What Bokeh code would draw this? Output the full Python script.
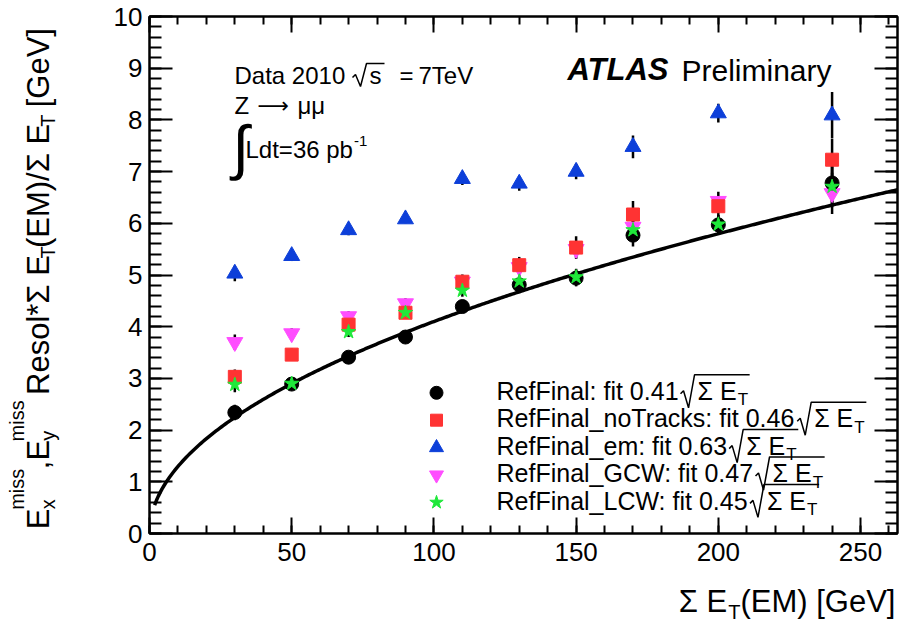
import numpy as np
from bokeh.plotting import figure
from bokeh.layouts import row, column
from bokeh.models import Label, LinearAxis, SingleIntervalTicker, Range1d
from bokeh.embed import file_html
from bokeh.resources import INLINE

# ---------------- data ----------------
sum_et = [30, 50, 70, 90, 110, 130, 150, 170, 200, 240]

reffinal      = [2.34, 2.89, 3.41, 3.80, 4.39, 4.81, 4.94, 5.77, 5.97, 6.78]
reffinal_err  = [0.15, 0.10, 0.10, 0.10, 0.12, 0.14, 0.16, 0.22, 0.18, 0.40]
notracks      = [3.03, 3.46, 4.04, 4.27, 4.87, 5.19, 5.53, 6.17, 6.33, 7.23]
notracks_err  = [0.14, 0.12, 0.12, 0.12, 0.14, 0.16, 0.22, 0.26, 0.20, 0.40]
em            = [5.03, 5.37, 5.87, 6.08, 6.86, 6.77, 7.00, 7.48, 8.13, 8.09]
em_err        = [0.15, 0.10, 0.10, 0.08, 0.12, 0.14, 0.15, 0.22, 0.18, 0.45]
gcw           = [3.70, 3.87, 4.20, 4.45, 4.87, 5.15, 5.50, 5.93, 6.43, 6.58]
gcw_err       = [0.15, 0.10, 0.10, 0.10, 0.12, 0.14, 0.16, 0.22, 0.18, 0.40]
lcw           = [2.88, 2.90, 3.90, 4.27, 4.70, 4.88, 4.96, 5.87, 5.98, 6.71]
lcw_err       = [0.15, 0.10, 0.10, 0.10, 0.12, 0.14, 0.16, 0.22, 0.18, 0.40]

series_names = ["RefFinal", "RefFinal_noTracks", "RefFinal_em", "RefFinal_GCW", "RefFinal_LCW"]
fit_coef     = [0.41, 0.46, 0.63, 0.47, 0.45]

x_ticks_interval = 50
y_ticks_interval = 1

# ---------------- layout ----------------
FONT = "Liberation Sans"
W_ALL, H_ALL = 900, 622
YW = 62            # width of the y-title strip
MH = 580           # height of the main row
FL, FT, FR, FB = 149, 16, 897, 533     # frame edges (overall pixels)
X0, X1 = 0.0, 263.0
Y0, Y1 = 0.0, 10.0
MID = 0.35         # distance baseline -> text middle, in em


def dx(px):
    return X0 + (px - FL) / (FR - FL) * (X1 - X0)


def dy(py):
    return Y0 + (FB - py) / (FB - FT) * (Y1 - Y0)


CW = {' ': .278, '!': .278, '(': .333, ')': .333, '*': .389, ',': .278, '-': .333, '.': .278,
      '/': .278, ':': .278, '=': .584, '[': .278, ']': .278, '_': .556,
      'A': .667, 'B': .667, 'C': .722, 'D': .722, 'E': .667, 'F': .611, 'G': .778, 'H': .722,
      'I': .278, 'L': .556, 'M': .833, 'N': .722, 'O': .778, 'P': .667, 'R': .722, 'S': .667,
      'T': .611, 'V': .667, 'W': .944, 'Z': .611,
      'a': .556, 'b': .556, 'c': .5, 'd': .556, 'e': .556, 'f': .278, 'g': .556, 'i': .222,
      'k': .5, 'l': .222, 'm': .833, 'n': .556, 'o': .556, 'p': .556, 'r': .333, 's': .5,
      't': .278, 'x': .5, 'y': .5, 'Σ': .62, 'μ': .577, '→': 1.0, '√': .549, '∫': .274}
for d in "0123456789":
    CW[d] = .556


def tw(s, size):
    return sum(CW.get(c, .556) for c in s) * size


p = figure(width=W_ALL - YW, height=MH, x_range=Range1d(X0, X1), y_range=Range1d(Y0, Y1),
           output_backend="svg", toolbar_location=None,
           min_border_left=FL - YW, min_border_top=FT, min_border_right=W_ALL - FR,
           min_border_bottom=MH - FB, x_axis_type=None, y_axis_type=None)
p.grid.visible = False
p.outline_line_color = "black"
p.outline_line_width = 2
p.background_fill_color = "white"
p.border_fill_color = "white"


def make_axis(interval, tin, tmin, show_labels, standoff):
    ax = LinearAxis(ticker=SingleIntervalTicker(interval=interval, num_minor_ticks=5))
    ax.axis_line_width = 2
    ax.major_tick_line_width = 2
    ax.minor_tick_line_width = 2
    ax.major_tick_in = tin
    ax.major_tick_out = 0
    ax.minor_tick_in = tmin
    ax.minor_tick_out = 0
    ax.major_label_text_font = FONT
    if show_labels:
        ax.major_label_text_color = "black"
        ax.major_label_text_font_size = "26px"
        ax.major_label_standoff = standoff
    else:
        ax.major_label_text_color = None
        ax.major_label_text_font_size = "1px"
        ax.major_label_standoff = 0
    return ax


p.add_layout(make_axis(x_ticks_interval, 16, 8, True, 9), "below")
p.add_layout(make_axis(y_ticks_interval, 23, 12, True, 7), "left")
p.add_layout(make_axis(x_ticks_interval, 16, 8, False, 0), "above")
p.add_layout(make_axis(y_ticks_interval, 23, 12, False, 0), "right")

# ---------------- fit curve ----------------
curve_x = np.linspace(1.8, X1, 400)
curve_y = fit_coef[0] * np.sqrt(curve_x)
p.line(curve_x, curve_y, line_width=3.5, color="black")

# ---------------- series ----------------
series = [
    (em, em_err, "triangle", "#0d3fd9", 16),
    (gcw, gcw_err, "inverted_triangle", "#ff4dff", 16),
    (notracks, notracks_err, "square", "#ff3333", 13),
    (reffinal, reffinal_err, "circle", "black", 14),
    (lcw, lcw_err, "star", "#1fe83a", 15),
]
for ys, es, _, _, _ in series:
    lo = [y - e for y, e in zip(ys, es)]
    hi = [y + e for y, e in zip(ys, es)]
    p.segment(x0=sum_et, y0=lo, x1=sum_et, y1=hi, line_width=2.5, color="black")
for ys, es, mk, col, sz in series:
    p.scatter(sum_et, ys, marker=mk, size=sz, fill_color=col, line_color=col)

# ---------------- text helpers ----------------
rad_xs, rad_ys = [], []


def lab(fig, text, x, y, size, style="normal", angle=0.0, font=FONT, align="left"):
    fig.add_layout(Label(x=x, y=y, text=text, text_font=font,
                         text_font_size=f"{size}px", text_font_style=style,
                         text_baseline="middle", text_align=align, angle=angle,
                         text_color="black"))


def mlab(text, px, pb, size, style="normal", font=FONT):
    """text in the main plot: px = left edge, pb = baseline (overall pixels)"""
    lab(p, text, dx(px), dy(pb - MID * size), size, style=style, font=font)


def radical(rx, b, top, bottom, end):
    pts = [(rx, b - 6), (rx + 3, b - 9), (rx + 8, bottom), (rx + 14, top), (end, top)]
    rad_xs.append([dx(a) for a, _ in pts])
    rad_ys.append([dy(c) for _, c in pts])


# ---------------- legend ----------------
leg_order = [("circle", "black", 13), ("square", "#ff3333", 12), ("triangle", "#0d3fd9", 14),
             ("inverted_triangle", "#ff4dff", 14), ("star", "#1fe83a", 14)]
LS = 25
for i, (name, coef) in enumerate(zip(series_names, fit_coef)):
    b = 399.3 + i * 27.4
    mk, col, sz = leg_order[i]
    p.scatter([dx(436)], [dy(b - 7)], marker=mk, size=sz, fill_color=col, line_color=col)
    main = f"{name}: fit {coef:.2f}"
    mlab(main, 496, b, LS)
    rx = 496 + tw(main, LS) + 2
    sx = rx + 17
    mlab("Σ E", sx, b, LS)
    tx = sx + tw("Σ E", LS) + 1
    mlab("T", tx, b + 6, 17)
    radical(rx, b, b - 25, b + 8, tx + 12)

# ---------------- top-left text ----------------
TS = 24
mlab("Data 2010", 234, 83, TS)
radical(352, 83, 63, 86, 384)
mlab("s", 369, 83, TS)
mlab("=", 399, 83, TS)
mlab("7TeV", 418, 83, TS)
mlab("Z", 234, 113, TS)
mlab("⟶", 257, 113, 22, font="DejaVu Sans")
mlab("μμ", 297, 113, TS)
mlab("∫", 232, 168, 60)
mlab("Ldt=36 pb", 245, 157, TS)
mlab("-1", 245 + tw("Ldt=36 pb", TS) + 1, 146, 15)

mlab("ATLAS", 567, 80, 31, style="bold italic")
mlab("Preliminary", 681, 80, 30)

p.multi_line(rad_xs, rad_ys, line_width=1.5, color="black")

# ---------------- axis titles (separate strips) ----------------
TF, TSUB = 31, 20


def strip(w, h, yspan):
    f = figure(width=w, height=h, x_range=Range1d(0, w), y_range=Range1d(yspan, 0),
               output_backend="svg", toolbar_location=None, min_border=0,
               x_axis_type=None, y_axis_type=None)
    f.grid.visible = False
    f.outline_line_color = None
    f.background_fill_color = "white"
    f.border_fill_color = "white"
    return f


# y title strip: pixel coordinates, y growing downward, text rotated to read upward
yfig = strip(YW, MH, 540)
A = np.pi / 2
BX = 49
cy = 535.0


def rpiece(t, size, shift):
    """rotated piece starting at cy (bottom), baseline at BX + shift"""
    w = tw(t, size)
    lab(yfig, t, BX + shift - MID * size, cy - w / 2, size, angle=A, align="center")
    return w


def ymain(t):
    global cy
    cy -= rpiece(t, TF, 0)


def ysubsup(sub, sup):
    global cy
    w1 = rpiece(sub, TSUB, 5) if sub else 0
    w2 = rpiece(sup, TSUB, -26) if sup else 0
    cy -= max(w1, w2) + 1


def ygap(t):
    global cy
    cy -= tw(t, TF)


ymain("E"); ysubsup("x", "miss")
ymain(",E"); ysubsup("y", "miss")
ygap(" "); ymain("Resol*Σ E"); ysubsup("T", None)
ymain("(EM)/Σ E"); ysubsup("T", None)
ygap(" "); ymain("[GeV]")

# x title strip
XH = H_ALL - MH
xfig = strip(W_ALL, XH, XH)
tot = tw("Σ E", TF) + tw("T", TSUB) + 1 + tw("(EM) [GeV]", TF)
cx = 895 - tot
base = 612 - MH
lab(xfig, "Σ E", cx, base - MID * TF, TF); cx += tw("Σ E", TF) + 1
lab(xfig, "T", cx, base + 6 - MID * TSUB, TSUB); cx += tw("T", TSUB)
lab(xfig, "(EM) [GeV]", cx, base - MID * TF, TF)

layout = column(row(yfig, p, spacing=0), xfig, spacing=0)
open("out.html", "w").write(file_html(layout, INLINE))
